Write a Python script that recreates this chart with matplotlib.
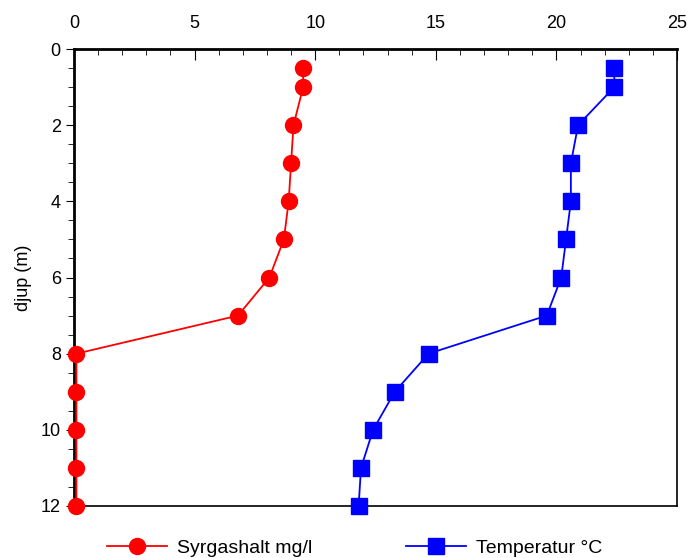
import numpy as np
import matplotlib.pyplot as plt
from matplotlib.ticker import MultipleLocator

plt.rcParams['font.family'] = ['Liberation Sans', 'DejaVu Sans']

djup = [0.5, 1, 2, 3, 4, 5, 6, 7, 8, 9, 10, 11, 12]
syrgas = [9.5, 9.5, 9.1, 9.0, 8.9, 8.7, 8.1, 6.8, 0.1, 0.1, 0.1, 0.1, 0.1]
temp = [22.4, 22.4, 20.9, 20.6, 20.6, 20.4, 20.2, 19.6, 14.7, 13.3, 12.4, 11.9, 11.8]

fig = plt.figure(figsize=(6.88, 5.58), dpi=100)
ax = fig.add_axes([74/688, 1-506/558, (677-74)/688, (506-49)/558])

ax.plot(syrgas, djup, marker='o', color='red', linewidth=1.3, markersize=11.5,
        label='Syrgashalt mg/l', clip_on=False, zorder=3)
ax.plot(temp, djup, marker='s', color='blue', linewidth=1.3, markersize=11.5,
        label='Temperatur °C', clip_on=False, zorder=3)

ax.set_xlim(0, 25)
ax.set_ylim(12, 0)
ax.xaxis.set_major_locator(MultipleLocator(5))
ax.xaxis.set_minor_locator(MultipleLocator(1))
ax.yaxis.set_major_locator(MultipleLocator(2))
ax.yaxis.set_minor_locator(MultipleLocator(0.5))
ax.xaxis.tick_top()
ax.tick_params(axis='x', which='both', direction='in', labelsize=13, pad=12)
ax.tick_params(axis='x', which='major', length=8)
ax.tick_params(axis='x', which='minor', length=4)
ax.tick_params(axis='y', which='both', direction='out', labelsize=13, right=False)
ax.tick_params(axis='y', which='major', length=6)
ax.tick_params(axis='y', which='minor', length=4)
for s in ax.spines.values():
    s.set_linewidth(1.2)
ax.spines['left'].set_linewidth(2)
ax.spines['top'].set_linewidth(2)
ax.set_ylabel('djup (m)', fontsize=13, labelpad=6)

ax.legend(loc='upper center', bbox_to_anchor=(0.465, -0.035), ncol=2, frameon=False,
          fontsize=14, columnspacing=4.8, handlelength=3.1, handletextpad=0.5)

fig.savefig('out.png', dpi=100)
